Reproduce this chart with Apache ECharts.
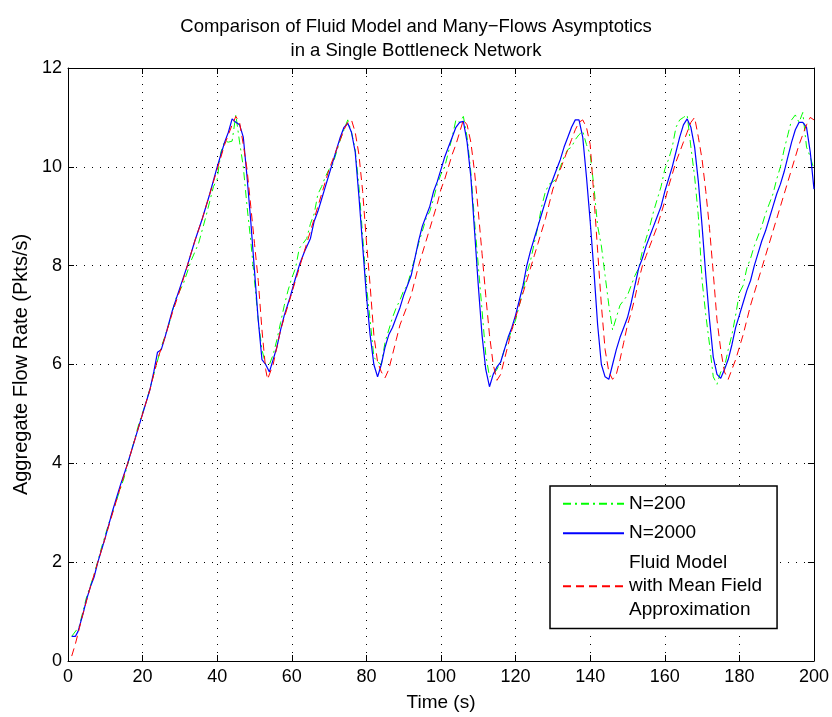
<!DOCTYPE html>
<html>
<head>
<meta charset="utf-8">
<script src="https://cdn.jsdelivr.net/npm/echarts@6/dist/echarts.min.js"></script>
<style>
html,body{margin:0;padding:0;background:#fff;}
#chart{width:832px;height:717px;}
</style>
</head>
<body>
<div id="chart"></div>
<script>
var titleText = 'Comparison of Fluid Model and Many\u2212Flows Asymptotics\nin a Single Bottleneck Network';
var xName = 'Time (s)';
var yName = 'Aggregate Flow Rate (Pkts/s)';
var xTicks = [0, 20, 40, 60, 80, 100, 120, 140, 160, 180, 200];
var yTicks = [0, 2, 4, 6, 8, 10, 12];
var seriesNames = ['N=200', 'N=2000', 'Fluid Model\nwith Mean Field\nApproximation'];

var n200 = [[1,0.5],[3,0.7],[5,1.3],[7,1.75],[9,2.3],[11,2.8],[13,3.25],[15,3.7],[17,4.25],[19,4.8],[21,5.25],[23,5.8],[25,6.35],[27,6.8],[29,7.35],[31,7.65],[33,8.1],[35,8.45],[37,9.0],[39,9.6],[40,9.75],[41,10.3],[42,10.52],[43,10.5],[44,10.52],[45,11.05],[46,10.5],[47,10.0],[48,9.2],[49,8.5],[50,7.7],[51,6.9],[52,6.3],[53,6.0],[54,6.0],[55,6.2],[56,6.5],[57,6.85],[58,7.2],[59,7.5],[60,7.75],[61,7.95],[62,8.35],[63,8.45],[64,8.55],[65,8.85],[66,9.05],[67,9.45],[68,9.6],[69,9.8],[70,9.95],[71,10.05],[72,10.3],[73,10.55],[74,10.75],[75,10.95],[76,10.7],[77,10.35],[78,9.6],[79,8.6],[80,7.6],[81,6.9],[82,6.15],[83,6.05],[84,6.0],[85,6.45],[86,6.7],[87,6.95],[88,7.15],[89,7.3],[90,7.5],[91,7.6],[92,7.9],[93,8.15],[94,8.45],[95,8.7],[96,8.95],[97,9.1],[98,9.35],[99,9.65],[100,9.85],[101,10.0],[102,10.3],[103,10.6],[104,10.95],[105,10.9],[106,11.02],[107,10.6],[108,9.9],[109,8.9],[110,8.0],[111,7.1],[112,6.2],[113,5.75],[114,5.8],[115,5.9],[116,6.05],[117,6.3],[118,6.5],[119,6.7],[120,6.9],[121,7.2],[122,7.5],[123,7.85],[124,8.1],[125,8.45],[126,8.8],[127,9.2],[128,9.5],[129,9.65],[130,9.7],[131,9.75],[132,10.0],[133,10.2],[134,10.35],[135,10.4],[136,10.55],[137,10.65],[138,10.72],[139,10.45],[140,10.25],[141,9.6],[142,8.8],[143,8.4],[144,7.8],[145,7.2],[146,6.7],[147,6.95],[148,7.2],[149,7.3],[150,7.4],[151,7.6],[152,7.8],[153,7.95],[154,8.3],[155,8.55],[156,8.8],[157,9.1],[158,9.35],[159,9.6],[160,9.95],[161,10.15],[162,10.4],[163,10.8],[164,10.95],[165,11.0],[166,11.05],[167,10.4],[168,9.8],[169,9.0],[170,7.7],[171,7.0],[172,6.4],[173,5.75],[174,5.6],[175,5.85],[176,5.95],[177,6.3],[178,6.6],[179,7.0],[180,7.45],[181,7.6],[182,7.95],[183,8.15],[184,8.4],[185,8.6],[186,8.8],[187,9.05],[188,9.25],[189,9.45],[190,9.75],[191,10.0],[192,10.35],[193,10.65],[194,10.95],[195,11.05],[196,10.9],[197,11.1],[198,10.4],[199,10.2],[200,9.95]];

var n2000 = [[1,0.5],[2,0.5],[2.7,0.6],[4,0.95],[5,1.25],[6,1.5],[7,1.7],[8,2.0],[10,2.5],[12,3.05],[14,3.55],[16,4.0],[18,4.5],[20,5.0],[22,5.5],[23,5.85],[24,6.25],[25,6.3],[26,6.55],[28,7.1],[30,7.55],[32,8.0],[34,8.5],[36,8.95],[38,9.45],[40,10.0],[41,10.25],[42,10.5],[43,10.7],[44,10.97],[45,10.9],[46,10.85],[47,10.6],[48,9.8],[49,8.9],[50,7.9],[51,6.9],[52,6.1],[53,6.0],[54,5.85],[55,6.1],[56,6.35],[57,6.7],[58,7.0],[59.5,7.35],[61,7.75],[62.2,8.05],[63.5,8.3],[65,8.55],[66,8.9],[67,9.1],[68,9.35],[69,9.6],[70,9.85],[71,10.1],[72,10.35],[73,10.6],[74,10.8],[75,10.88],[76,10.7],[77,10.3],[78,9.4],[79,8.4],[80,7.4],[81,6.6],[82,6.0],[83,5.75],[84,6.0],[85,6.35],[86,6.6],[87,6.75],[88,6.95],[89,7.15],[90,7.4],[91,7.6],[92,7.8],[93,8.15],[94,8.5],[95,8.8],[96,9.0],[97,9.2],[98,9.5],[99,9.7],[100,9.95],[101,10.2],[102,10.4],[103,10.6],[104,10.8],[105,10.9],[106,10.92],[107,10.5],[108,9.8],[109,8.7],[110,7.6],[111,6.6],[112,5.9],[113,5.55],[114,5.8],[115,5.95],[116,6.05],[117,6.3],[118,6.55],[119,6.75],[120,7.0],[121,7.3],[122,7.6],[123,8.0],[124,8.3],[125,8.55],[126,8.8],[127,9.05],[128,9.3],[129,9.55],[130,9.75],[131,9.95],[132,10.15],[133,10.4],[134,10.6],[135,10.8],[136,10.95],[137,10.95],[138,10.6],[139,9.8],[140,8.9],[141,7.9],[142,6.8],[143,6.0],[144,5.75],[145,5.7],[146,6.0],[147,6.3],[148,6.55],[149,6.75],[150,6.95],[151,7.25],[152,7.6],[153,7.95],[154,8.15],[155,8.4],[156,8.6],[157,8.8],[158,9.0],[159,9.2],[160,9.5],[161,9.75],[162,10.0],[163,10.3],[164,10.6],[165,10.85],[166,10.97],[167,10.8],[168,10.4],[169,9.7],[170,8.8],[171,7.8],[172,6.9],[173,6.15],[174,5.8],[175,5.72],[176,5.9],[177,6.1],[178,6.4],[179,6.75],[180,7.0],[181,7.25],[182,7.5],[183,7.7],[184,8.0],[185,8.25],[186,8.5],[187,8.7],[188,8.95],[189,9.2],[190,9.45],[191,9.65],[192,9.9],[193,10.2],[194,10.5],[195,10.75],[196,10.9],[197,10.9],[198,10.8],[199,10.3],[200,9.55]];

var fluid = [[1,0.1],[2,0.35],[3,0.65],[4,0.95],[6,1.5],[8,2.0],[10,2.5],[12,3.0],[14,3.5],[16,4.0],[18,4.5],[20,5.0],[22,5.5],[24,6.1],[26,6.55],[28,7.05],[30,7.5],[32,8.0],[34,8.5],[36,8.95],[38,9.45],[40,9.95],[42,10.45],[44,10.85],[45,11.02],[46,10.9],[47,10.45],[48,9.95],[49,9.2],[50,8.45],[51,7.7],[52,6.7],[53,5.9],[53.5,5.7],[54,5.7],[55,6.0],[56,6.35],[57,6.7],[58,6.95],[59,7.2],[60,7.45],[61,7.7],[62,7.95],[63,8.2],[64,8.45],[65,8.7],[66,8.95],[67,9.2],[68,9.45],[69,9.7],[70,9.95],[71,10.15],[72,10.35],[73,10.55],[74,10.75],[75,10.9],[76,10.95],[77,10.7],[78,10.25],[79,9.5],[80,8.5],[81,7.6],[82,6.6],[83,6.05],[84,5.85],[85,5.73],[86,5.9],[87,6.2],[88,6.5],[89,6.8],[90,7.0],[91,7.2],[92,7.4],[93,7.7],[94,8.0],[95,8.25],[96,8.5],[97,8.75],[98,9.0],[99,9.25],[100,9.55],[101,9.75],[102,10.0],[103,10.25],[104,10.45],[105,10.7],[106,10.95],[107,10.85],[108,10.5],[109,9.9],[110,9.1],[111,8.25],[112,7.4],[113,6.6],[114,6.0],[115,5.68],[116,5.8],[117,6.1],[118,6.4],[119,6.7],[120,6.95],[121,7.2],[122,7.45],[123,7.7],[124,7.95],[125,8.2],[126,8.45],[127,8.7],[128,8.95],[129,9.25],[130,9.55],[131,9.75],[132,9.95],[133,10.15],[134,10.35],[135,10.55],[136,10.75],[137,10.9],[138,10.95],[139,10.8],[140,10.45],[141,9.4],[142,8.3],[143,7.2],[144,6.3],[145,5.85],[146,5.7],[147,5.8],[148,6.1],[149,6.45],[150,6.8],[151,7.05],[152,7.35],[153,7.7],[154,8.0],[155,8.2],[156,8.4],[157,8.6],[158,8.8],[159,9.05],[160,9.3],[161,9.6],[162,9.85],[163,10.1],[164,10.3],[165,10.5],[166,10.7],[167,10.9],[168,11.0],[169,10.6],[170,10.15],[171,9.5],[172,8.75],[173,7.85],[174,6.9],[175,6.3],[176,5.85],[177,5.7],[178,5.9],[179,6.1],[180,6.35],[181,6.6],[182,6.9],[183,7.2],[184,7.45],[185,7.7],[186,7.95],[187,8.2],[188,8.45],[189,8.7],[190,8.95],[191,9.2],[192,9.45],[193,9.7],[194,9.95],[195,10.2],[196,10.45],[197,10.65],[198,10.85],[199,11.0],[200,10.95]];

var FONT = '"Liberation Sans", Arial, Helvetica, sans-serif';
var chart = echarts.init(document.getElementById('chart'), null, {renderer: 'canvas'});

var gridLine = {show: true, lineStyle: {color: '#000', width: 1, type: [1, 7]}};
var mirrorAxisCommon = {
  axisLine: {show: true, onZero: false, lineStyle: {color: '#000', width: 1}},
  axisTick: {show: true, inside: true, length: 6, lineStyle: {color: '#000'}},
  axisLabel: {show: false},
  splitLine: {show: false}
};

var option = {
  animation: false,
  backgroundColor: '#fff',
  title: {
    text: titleText,
    left: 'center',
    top: 10,
    textStyle: {fontFamily: FONT, fontSize: 18.5, fontWeight: 'normal', color: '#000', lineHeight: 24}
  },
  grid: {left: 68, right: 18, top: 68, bottom: 51.5, containLabel: false},
  legend: {
    orient: 'vertical',
    left: 550,
    top: 486,
    width: 228,
    data: seriesNames,
    backgroundColor: '#fff',
    borderColor: '#000',
    borderWidth: 1.5,
    borderRadius: 0,
    padding: [6, 15, 7, 12],
    itemGap: 6,
    itemWidth: 61,
    itemHeight: 14,
    itemStyle: {opacity: 0},
    textStyle: {fontFamily: FONT, fontSize: 19, color: '#000', lineHeight: 23.5}
  },
  xAxis: [{
    type: 'value', min: 0, max: 200, interval: 20, position: 'bottom',
    name: xName, nameLocation: 'middle', nameGap: 32,
    nameTextStyle: {fontFamily: FONT, fontSize: 19, color: '#000'},
    axisLine: {show: true, onZero: false, lineStyle: {color: '#000', width: 1}},
    axisTick: {show: true, inside: true, length: 6, lineStyle: {color: '#000'}},
    axisLabel: {fontFamily: FONT, fontSize: 18, color: '#000', margin: 7,
      formatter: function (v) { return xTicks.indexOf(v) >= 0 ? String(v) : ''; }},
    splitLine: gridLine
  }, Object.assign({type: 'value', min: 0, max: 200, interval: 20, position: 'top'}, mirrorAxisCommon)],
  yAxis: [{
    type: 'value', min: 0, max: 12, interval: 2, position: 'left',
    name: yName, nameLocation: 'middle', nameGap: 35,
    nameTextStyle: {fontFamily: FONT, fontSize: 20, color: '#000'},
    axisLine: {show: true, onZero: false, lineStyle: {color: '#000', width: 1}},
    axisTick: {show: true, inside: true, length: 6, lineStyle: {color: '#000'}},
    axisLabel: {fontFamily: FONT, fontSize: 18, color: '#000', margin: 6,
      formatter: function (v) { return yTicks.indexOf(v) >= 0 ? String(v) : ''; }},
    splitLine: gridLine
  }, Object.assign({type: 'value', min: 0, max: 12, interval: 2, position: 'right'}, mirrorAxisCommon)],
  series: [{
    name: seriesNames[0], type: 'line', data: n200, symbol: 'none', showSymbol: false,
    color: '#00ff00',
    lineStyle: {color: '#00ff00', width: 1, type: [8, 4, 2, 4]}
  }, {
    name: seriesNames[1], type: 'line', data: n2000, symbol: 'none', showSymbol: false,
    color: '#0000ff',
    lineStyle: {color: '#0000ff', width: 1.2, type: 'solid'}
  }, {
    name: seriesNames[2], type: 'line', data: fluid, symbol: 'none', showSymbol: false,
    color: '#ff0000',
    lineStyle: {color: '#ff0000', width: 1, type: [8, 5]}
  }]
};
chart.setOption(option);
</script>
</body>
</html>
